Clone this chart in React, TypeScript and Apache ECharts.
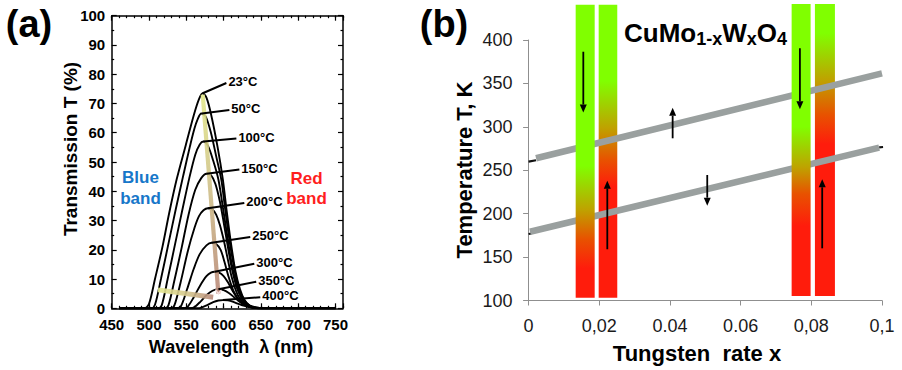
import React, { useEffect, useRef } from "react";
import * as echarts from "echarts";

const FONT = '"Liberation Sans", Arial, Helvetica, sans-serif';

// ---------------- Panel (a): transmission spectra ----------------
const tempLabels = ["23°C", "50°C", "100°C", "150°C", "200°C", "250°C", "300°C", "350°C", "400°C"];

const curve23C = [[460, 0], [494, 0], [500, 1.5], [508, 10], [518, 21], [527, 32.5], [537, 44], [549, 55.5], [560, 66], [567, 71.5], [572, 73.5], [577, 72], [583, 66.5], [592, 55], [599, 44], [604, 33.5], [610, 22], [616, 12.5], [622, 6.5], [628, 2.8], [635, 0.9], [645, 0.2], [660, 0], [750, 0]];
const curve50C = [[460, 0], [503, 0], [508, 1.2], [516, 10], [526, 22], [536, 34], [546, 45.5], [555, 55.5], [561, 61.5], [565, 64.5], [570, 66.6], [576, 65.5], [583, 60], [590, 52], [597, 43.8], [602, 34], [608, 23], [614, 14], [620, 7], [627, 3], [635, 0.9], [645, 0.2], [660, 0], [750, 0]];
const curve100C = [[460, 0], [512, 0], [517, 1], [525, 10], [535, 22], [545, 34], [554, 44.5], [562, 52.5], [568, 56], [573, 57], [579, 55.5], [586, 50.5], [593, 44], [599, 34.5], [605, 24.5], [611, 15], [618, 7.5], [626, 3], [634, 0.9], [644, 0.2], [660, 0], [750, 0]];
const curve150C = [[460, 0], [521, 0], [526, 1], [534, 9.5], [544, 21], [553, 32], [562, 40.5], [570, 44.5], [577, 46], [583, 45.5], [589, 42.5], [595, 36.5], [600, 29.5], [605, 22], [612, 12.5], [620, 5.5], [629, 1.7], [639, 0.3], [655, 0], [750, 0]];
const curve200C = [[460, 0], [529, 0], [534, 1], [542, 8.5], [552, 19.5], [561, 27.5], [567, 31.5], [573, 33.5], [579, 34.2], [585, 33.8], [590, 32], [595, 28.5], [600, 23.5], [605, 17.5], [611, 10.5], [619, 4.5], [628, 1.5], [638, 0.3], [655, 0], [750, 0]];
const curve250C = [[460, 0], [538, 0], [543, 0.8], [551, 6.5], [560, 13.5], [568, 18.5], [577, 21.5], [584, 22.4], [590, 22], [596, 20], [601, 16], [607, 10.5], [614, 5.5], [622, 2.4], [630, 0.9], [640, 0.2], [655, 0], [750, 0]];
const curve300C = [[460, 0], [547, 0], [552, 0.6], [560, 3.8], [569, 8], [577, 11], [583, 12.2], [588, 12.5], [594, 12.2], [600, 11], [606, 8.8], [612, 6], [619, 3.3], [627, 1.4], [636, 0.4], [650, 0], [750, 0]];
const curve350C = [[460, 0], [556, 0], [561, 0.4], [569, 2.3], [577, 4.5], [585, 6], [593, 6.5], [600, 6.2], [607, 5.2], [614, 3.8], [621, 2.3], [629, 1], [638, 0.3], [650, 0], [750, 0]];
const curve400C = [[460, 0], [565, 0], [570, 0.2], [578, 1.1], [586, 2.1], [593, 2.65], [599, 2.8], [606, 2.7], [613, 2.2], [620, 1.5], [628, 0.8], [637, 0.3], [650, 0], [750, 0]];

const transmissionCurves = [curve23C, curve50C, curve100C, curve150C, curve200C, curve250C, curve300C, curve350C, curve400C];

// peak of each curve (leader start) and label anchor (leader end), in nm / %
const peakPoints = [[572, 73.5], [571, 66.6], [573, 57], [577, 46], [579, 34.2], [584, 22.4], [588, 12.5], [593, 6.5], [599, 2.8]];
const labelAnchors = [[603.7, 77.0], [607.7, 67.8], [617.1, 58.0], [621.1, 47.4], [627.7, 36.0], [635.7, 24.4], [641.1, 15.2], [643.7, 9.1], [649.1, 3.8]];

// peak-shift guide lines [x1, y1, x2, y2]
const peakGuides = [[572, 73, 593, 5], [512, 6.3, 586, 3.8]];

// ---------------- Panel (b): phase diagram ----------------
const xTickLabelsB = ["0", "0,02", "0.04", "0.06", "0,08", "0,1"];
const upperBranch = [[0.0021, 263.8], [0.1, 361.6]];
const lowerBranch = [[0.0004, 179.2], [0.0992, 276]];
const branchEndMarks = [[0, 260, 0.0021, 261.5], [0, 176.6, 0.0008, 177.2], [0.0992, 276.4, 0.1003, 276.8]];
// [xStart, xEnd, yBottom, yTop]
const bandRanges = [[0.01332, 0.0187, 103.2, 440.7], [0.01983, 0.02509, 103.2, 440.7], [0.07443, 0.0798, 105.2, 441.5], [0.08102, 0.08668, 105.2, 441.5]];
// [x, yFrom, yTo]
const transitionArrows = [[0.01548, 386.5, 316.5], [0.02227, 159, 238], [0.04076, 286.8, 322], [0.05055, 244.5, 209.2], [0.07677, 390.4, 320.2], [0.08308, 160.1, 239.6]];

// ---------- styles ----------
const G = "#80ff00";
const OL = "#bfa200";
const OR = "#e85200";
const R = "#ff1c0c";
const bandStops = [
  [[0, G], [0.55, G], [0.70, OL], [0.80, OR], [0.9, R], [1, R]],
  [[0, G], [0.26, G], [0.42, OL], [0.53, OR], [0.62, R], [1, R]],
  [[0, G], [0.42, G], [0.56, OL], [0.65, OR], [0.76, R], [1, R]],
  [[0, G], [0.1, G], [0.26, OL], [0.38, OR], [0.48, R], [1, R]],
];
const bandLayer = ["front", "back", "front", "back"];

function gradient(stops: any[], horizontal = false) {
  return new echarts.graphic.LinearGradient(0, 0, horizontal ? 1 : 0, horizontal ? 0 : 1,
    stops.map((s: any) => ({ offset: s[0], color: s[1] })));
}

function txt(text: string, x: number, y: number, size: number, opts: any = {}) {
  const align = opts.align || "center";
  return {
    type: "text",
    x,
    y,
    rotation: opts.rotation || 0,
    z: 10,
    style: {
      text,
      fill: opts.fill || "#000",
      font: `${opts.weight || "bold"} ${size}px ${FONT}`,
      fontSize: size,
      fontWeight: opts.weight || "bold",
      fontFamily: FONT,
      lineHeight: opts.lineHeight,
      align,
      textAlign: align,
      verticalAlign: "middle",
      textVerticalAlign: "middle",
    },
  };
}

function bandSeries(layer: string, z: number) {
  return {
    type: "custom",
    xAxisIndex: 4,
    yAxisIndex: 2,
    clip: false,
    z,
    silent: true,
    data: bandRanges.map((r, i) => [...r, i]).filter((d) => bandLayer[d[4]] === layer),
    renderItem: (params: any, api: any) => {
      const idx = api.value(4);
      const a = api.coord([api.value(0), api.value(3)]);
      const b = api.coord([api.value(1), api.value(2)]);
      return {
        type: "rect",
        shape: { x: a[0], y: a[1], width: b[0] - a[0], height: b[1] - a[1] },
        style: { fill: gradient(bandStops[idx]) },
      };
    },
  };
}

export default function App() {
  const ref = useRef<HTMLDivElement>(null);

  useEffect(() => {
    if (!ref.current) return;
    const chart = echarts.init(ref.current, undefined, { renderer: "svg" });

    const blackLine = { color: "#000", width: 1.5 };
    const tickBlack = { color: "#000", width: 1.2 };
    const grayAxis = { color: "#8f8f8f", width: 1 };

    const aX = (position: string, interval: number, len: number, showLine: boolean, showLabel: boolean) => ({
      gridIndex: 0,
      type: "value",
      position,
      min: 450,
      max: 760,
      interval,
      axisLine: { show: showLine, onZero: false, lineStyle: blackLine },
      axisTick: { show: true, inside: true, length: len, lineStyle: tickBlack },
      axisLabel: {
        show: showLabel,
        margin: 8.5,
        color: "#000",
        fontSize: 15,
        lineHeight: 15,
        fontWeight: "bold",
        fontFamily: FONT,
        formatter: (v: number) => (v <= 750 && v % 50 === 0 ? String(v) : ""),
      },
      splitLine: { show: false },
    });
    const aY = (position: string, showLabel: boolean) => ({
      gridIndex: 0,
      type: "value",
      position,
      min: 0,
      max: 100,
      interval: 10,
      axisLine: { show: true, onZero: false, lineStyle: blackLine },
      axisTick: { show: true, inside: true, length: 5, lineStyle: tickBlack },
      minorTick: { show: true, splitNumber: 2, length: 2.5, lineStyle: tickBlack },
      axisLabel: { show: showLabel, margin: 6.5, color: "#000", fontSize: 15, lineHeight: 13, fontWeight: "bold", fontFamily: FONT },
      splitLine: { show: false },
    });

    const curveSeries = transmissionCurves.map((c, i) => ({
      name: tempLabels[i],
      type: "line",
      xAxisIndex: 0,
      yAxisIndex: 0,
      data: c,
      showSymbol: false,
      smooth: 0.3,
      lineStyle: { color: "#000", width: 1.9 },
      z: 2,
      silent: true,
    }));

    const option: any = {
      animation: false,
      backgroundColor: "#fff",
      textStyle: { fontFamily: FONT },
      grid: [
        { left: 111.7, top: 15.7, width: 231.3, height: 292.6, outerBoundsMode: "none", containLabel: false },
        { left: 528.6, top: 40, width: 353.4, height: 260.5, outerBoundsMode: "none", containLabel: false },
      ],
      xAxis: [
        aX("bottom", 50, 5, true, true),
        aX("bottom", 10, 2.5, false, false),
        aX("top", 50, 5, true, false),
        aX("top", 10, 2.5, false, false),
        {
          gridIndex: 1,
          type: "value",
          position: "bottom",
          min: 0,
          max: 0.1,
          interval: 0.02,
          axisLine: { show: true, onZero: false, lineStyle: grayAxis },
          axisTick: { show: true, inside: false, length: 5, lineStyle: grayAxis },
          axisLabel: {
            show: true,
            margin: 16.5,
            color: "#1a1a1a",
            fontSize: 18,
            fontFamily: FONT,
            formatter: (v: number) => xTickLabelsB[Math.round(v / 0.02)] ?? "",
          },
          splitLine: { show: false },
        },
      ],
      yAxis: [
        aY("left", true),
        aY("right", false),
        {
          gridIndex: 1,
          type: "value",
          position: "left",
          min: 100,
          max: 400,
          interval: 50,
          axisLine: { show: true, onZero: false, lineStyle: grayAxis },
          axisTick: { show: true, inside: false, length: 5.5, lineStyle: grayAxis },
          axisLabel: { show: true, margin: 16, color: "#1a1a1a", fontSize: 18, fontFamily: FONT },
          splitLine: { show: false },
        },
      ],
      series: [
        ...curveSeries,
        {
          type: "custom",
          xAxisIndex: 0,
          yAxisIndex: 0,
          clip: false,
          z: 3,
          silent: true,
          data: peakGuides,
          renderItem: (params: any, api: any) => {
            const i = params.dataIndex;
            const p0 = api.coord([api.value(0), api.value(1)]);
            const p1 = api.coord([api.value(2), api.value(3)]);
            const horizontal = i === 1;
            const stops = horizontal
              ? [[0, "#e4e98e"], [0.55, "#d3c48c"], [1, "#b98a7c"]]
              : [[0, "#e2e88a"], [0.45, "#d0c28a"], [1, "#b88878"]];
            const children: any[] = [
              {
                type: "line",
                shape: { x1: p0[0], y1: p0[1], x2: p1[0], y2: p1[1] },
                style: { stroke: gradient(stops, horizontal), lineWidth: horizontal ? 5 : 4.2, opacity: 0.9, lineCap: "butt" },
              },
            ];
            if (!horizontal) {
              children.push({
                type: "polyline",
                shape: { points: [[p1[0] - 3, p1[1] - 4], [p1[0], p1[1]], [p1[0] + 3, p1[1] - 4]] },
                style: { stroke: "#f3dcdc", lineWidth: 1.5, fill: null },
              });
            }
            return { type: "group", children };
          },
        },
        {
          type: "custom",
          xAxisIndex: 0,
          yAxisIndex: 0,
          clip: false,
          z: 4,
          silent: true,
          data: peakPoints.map((p, i) => [p[0], p[1], labelAnchors[i][0], labelAnchors[i][1]]),
          renderItem: (params: any, api: any) => {
            const i = params.dataIndex;
            const p0 = api.coord([api.value(0), api.value(1)]);
            const p1 = api.coord([api.value(2), api.value(3)]);
            return {
              type: "group",
              children: [
                { type: "line", shape: { x1: p0[0], y1: p0[1], x2: p1[0], y2: p1[1] }, style: { stroke: "#000", lineWidth: 2 } },
                {
                  type: "text",
                  x: p1[0] + 2,
                  y: p1[1] - 1.5,
                  style: {
                    text: tempLabels[i],
                    fill: "#000",
                    fontSize: 13,
                    lineHeight: 14,
                    fontWeight: "bold",
                    fontFamily: FONT,
                    align: "left",
                    verticalAlign: "middle",
                  },
                },
              ],
            };
          },
        },
        bandSeries("back", 1),
        {
          type: "line",
          xAxisIndex: 4,
          yAxisIndex: 2,
          data: upperBranch,
          showSymbol: false,
          lineStyle: { color: "#9aa09f", width: 6.5, cap: "butt" },
          z: 2,
          silent: true,
        },
        {
          type: "line",
          xAxisIndex: 4,
          yAxisIndex: 2,
          data: lowerBranch,
          showSymbol: false,
          lineStyle: { color: "#9aa09f", width: 6.5, cap: "butt" },
          z: 2,
          silent: true,
        },
        {
          type: "custom",
          xAxisIndex: 4,
          yAxisIndex: 2,
          clip: false,
          z: 2,
          silent: true,
          data: branchEndMarks,
          renderItem: (params: any, api: any) => {
            const p0 = api.coord([api.value(0), api.value(1)]);
            const p1 = api.coord([api.value(2), api.value(3)]);
            return { type: "line", shape: { x1: p0[0], y1: p0[1], x2: p1[0], y2: p1[1] }, style: { stroke: "#111", lineWidth: 2.2 } };
          },
        },
        bandSeries("front", 3),
        {
          type: "custom",
          xAxisIndex: 4,
          yAxisIndex: 2,
          clip: false,
          z: 5,
          silent: true,
          data: transitionArrows,
          renderItem: (params: any, api: any) => {
            const x = api.value(0);
            const p0 = api.coord([x, api.value(1)]);
            const p1 = api.coord([x, api.value(2)]);
            const dir = p1[1] > p0[1] ? 1 : -1;
            const headLen = 8;
            const headW = 3.5;
            const base = p1[1] - dir * headLen;
            return {
              type: "group",
              children: [
                { type: "line", shape: { x1: p0[0], y1: p0[1], x2: p1[0], y2: base }, style: { stroke: "#000", lineWidth: 1.8 } },
                { type: "polygon", shape: { points: [[p1[0], p1[1]], [p1[0] - headW, base], [p1[0] + headW, base]] }, style: { fill: "#000" } },
              ],
            };
          },
        },
      ],
      graphic: [
        txt("(a)", 29, 24, 38),
        txt("(b)", 444, 24, 38),
        txt("Transmission T (%)", 70, 149, 19, { rotation: Math.PI / 2 }),
        txt("Wavelength\u00a0 λ (nm)", 231, 347, 18),
        txt("Temperature T, K", 464, 170, 22, { rotation: Math.PI / 2 }),
        txt("Tungsten\u00a0 rate x", 697, 353, 22),
        txt("Blue\nband", 140.5, 188, 17, { fill: "#1777c9", lineHeight: 20.5 }),
        txt("Red\nband", 306.5, 188.5, 17, { fill: "#ff1e1e", lineHeight: 20.5 }),
        txt("CuMo", 624, 32.7, 26, { align: "left" }),
        txt("1-x", 696.2, 38.8, 18, { align: "left" }),
        txt("W", 722.2, 32.7, 26, { align: "left" }),
        txt("x", 746.7, 38.8, 18, { align: "left" }),
        txt("O", 756.7, 32.7, 26, { align: "left" }),
        txt("4", 776.9, 38.8, 18, { align: "left" }),
      ],
    };

    chart.setOption(option);
    return () => chart.dispose();
  }, []);

  return <div ref={ref} style={{ position: "absolute", left: 0, top: 0, width: 902, height: 370, background: "#fff" }} />;
}
